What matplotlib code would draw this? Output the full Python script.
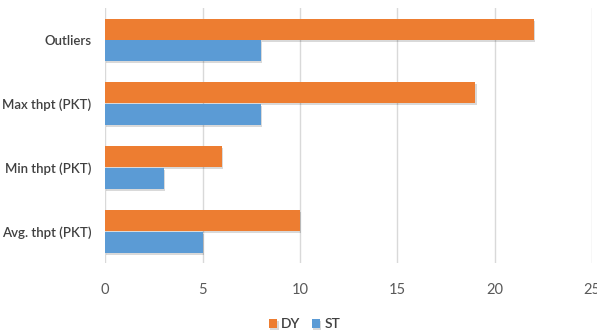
import matplotlib
matplotlib.use("Agg")
import matplotlib.pyplot as plt
import matplotlib.patheffects as pe
import numpy as np

categories = ["Avg. thpt (PKT)", "Min thpt (PKT)", "Max thpt (PKT)", "Outliers"]
dy_values = [10, 6, 19, 22]
st_values = [5, 3, 8, 8]
x_ticks = [0, 5, 10, 15, 20, 25]

plt.rcParams['font.family'] = ['Lato', 'DejaVu Sans']

fig = plt.figure(figsize=(5.97, 3.36), dpi=100)
ax = fig.add_axes([0.176, 0.217, 0.816, 0.759])

y = np.arange(len(categories))
h = 0.33
shadow = [pe.SimplePatchShadow(offset=(1, -1.5), shadow_rgbFace='#000000', alpha=0.15), pe.Normal()]
b1 = ax.barh(y + h / 2 + 0.005, dy_values, height=h, color='#ED7D31', label='DY', zorder=3)
b2 = ax.barh(y - h / 2 - 0.005, st_values, height=h, color='#5B9BD5', label='ST', zorder=3)
for b in list(b1) + list(b2):
    b.set_path_effects(shadow)

ax.set_xlim(0, 25)
ax.set_ylim(-0.5, 3.5)
ax.set_xticks(x_ticks)
ax.set_yticks(y)
ax.set_yticklabels(categories, fontsize=9.5, color='#404040', fontweight='semibold')
ax.tick_params(axis='x', labelsize=10.5, labelcolor='#595959', length=0, pad=14)
ax.tick_params(axis='y', length=0, pad=10)
ax.grid(axis='x', color='#D9D9D9', linewidth=1, zorder=0)
for s in ax.spines.values():
    s.set_visible(False)

leg = fig.legend(handles=[b1, b2], labels=['DY', 'ST'], loc='center', bbox_to_anchor=(0.51, 0.035),
                 ncol=2, frameon=False, fontsize=10, handlelength=0.6, handleheight=0.6,
                 handletextpad=0.3, columnspacing=0.8)
for t in leg.get_texts():
    t.set_color('#404040')
    t.set_fontweight('semibold')

fig.savefig('out.png', dpi=100)
